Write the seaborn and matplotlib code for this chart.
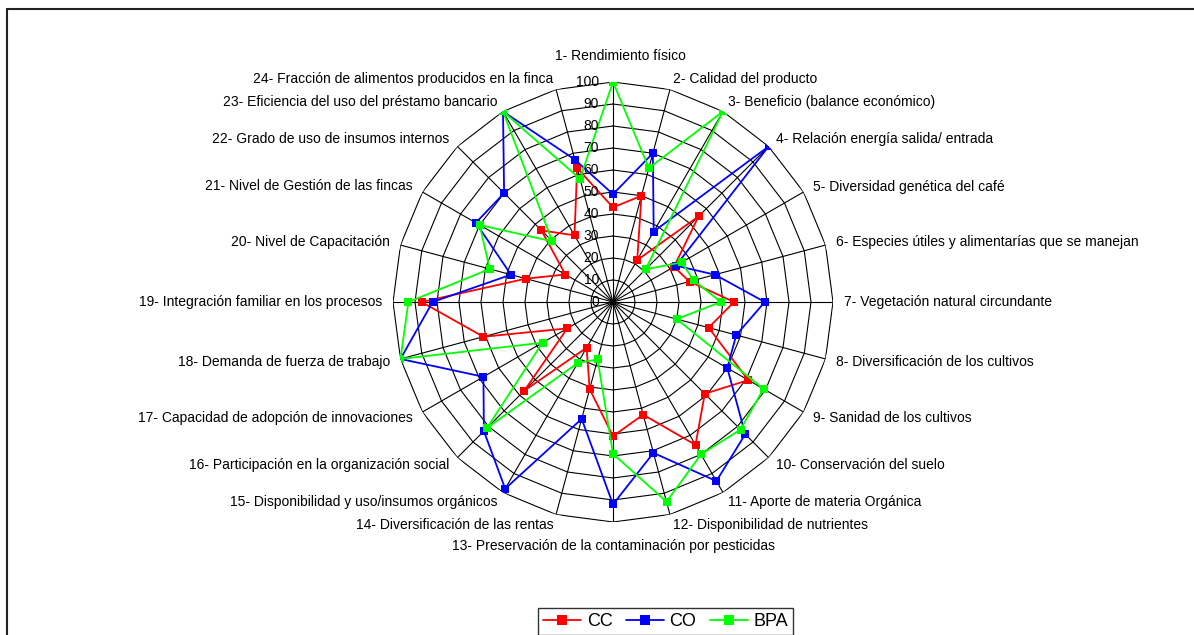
import numpy as np
import pandas as pd
import matplotlib
matplotlib.use('Agg')
import matplotlib.pyplot as plt
from matplotlib.lines import Line2D
import seaborn as sns

# Indicators (radar axes)
indicators = [
    '1- Rendimiento físico',
    '2- Calidad del producto',
    '3- Beneficio (balance económico)',
    '4- Relación energía salida/ entrada',
    '5- Diversidad genética del café',
    '6- Especies útiles y alimentarías que se manejan',
    '7- Vegetación natural circundante',
    '8- Diversificación de los cultivos',
    '9- Sanidad de los cultivos',
    '10- Conservación del suelo',
    '11- Aporte de materia Orgánica',
    '12- Disponibilidad de nutrientes',
    '13- Preservación de la contaminación por pesticidas',
    '14- Diversificación de las rentas',
    '15- Disponibilidad y uso/insumos orgánicos',
    '16- Participación en la organización social',
    '17- Capacidad de adopción de innovaciones',
    '18- Demanda de fuerza de trabajo',
    '19- Integración familiar en los procesos',
    '20- Nivel de Capacitación',
    '21- Nivel de Gestión de las fincas',
    '22- Grado de uso de insumos internos',
    '23- Eficiencia del uso del préstamo bancario',
    '24- Fracción de alimentos producidos en la finca',
]

# Series values
cc = [43, 50, 22, 55, 32, 36, 55, 45, 71, 59, 75, 53, 61, 41, 24, 57, 24, 61, 87, 41, 25, 46, 35, 63]
co = [49, 70, 37, 100, 33, 48, 69, 58, 60, 85, 94, 71, 92, 55, 98, 83, 68, 100, 82, 48, 72, 70, 100, 67]
bpa = [100, 63, 100, 21, 36, 38, 49, 30, 79, 82, 80, 94, 69, 27, 32, 81, 37, 100, 93, 58, 70, 39, 100, 58]

series_names = ['CC', 'CO', 'BPA']
series_colors = ['#FF0000', '#0000FF', '#00FF00']
radial_ticks = [0, 10, 20, 30, 40, 50, 60, 70, 80, 90, 100]

n = len(indicators)
theta = np.arange(n) * 2 * np.pi / n
theta_closed = np.append(theta, 2 * np.pi)

# Long table for seaborn (closed loops)
rows = []
for name, vals in zip(series_names, [cc, co, bpa]):
    closed = list(vals) + [vals[0]]
    for t, v in zip(theta_closed, closed):
        rows.append({'theta': t, 'valor': v, 'serie': name})
df = pd.DataFrame(rows)

sns.set_style('white')
plt.rcParams['font.family'] = ['Liberation Sans', 'DejaVu Sans']
plt.rcParams['text.color'] = 'black'

W, H = 1194, 635
fig = plt.figure(figsize=(W / 100, H / 100), dpi=100)
cx, cy, R = 613, 302, 220
ax = fig.add_axes([(cx - R) / W, 1 - (cy + R) / H, 2 * R / W, 2 * R / H], projection='polar')
ax.set_theta_offset(np.pi / 2)
ax.set_theta_direction(-1)
ax.set_ylim(0, 100)
ax.grid(False)
ax.set_xticks([])
ax.set_yticks([])
ax.spines['polar'].set_visible(False)
ax.patch.set_alpha(0)

# Polygon grid and spokes
for r in radial_ticks[1:]:
    ax.plot(theta_closed, [r] * len(theta_closed), color='black', lw=0.8, zorder=1)
for t in theta:
    ax.plot([t, t], [0, 100], color='black', lw=0.8, zorder=1)

# Data series
sns.lineplot(data=df, x='theta', y='valor', hue='serie', hue_order=series_names,
             palette=series_colors, sort=False, marker='s', markersize=6,
             markeredgewidth=0, linewidth=1.3, legend=False, ax=ax, zorder=3)
ax.set_xlabel('')
ax.set_ylabel('')
ax.set_ylim(0, 100)

# Radial tick labels along the first axis
for r in radial_ticks:
    ax.annotate(str(r), xy=(0, r), xytext=(-14, 0), textcoords='offset pixels',
                ha='right', va='center', fontsize=10, color='black', zorder=4)

# Indicator labels
for i, (t, lab) in enumerate(zip(theta, indicators)):
    s, c = np.sin(t), np.cos(t)
    if i == 0:
        ax.annotate(lab, xy=(t, 100), xytext=(7, 26), textcoords='offset pixels',
                    ha='center', va='center', fontsize=10, color='black')
    elif i == n // 2:
        ax.annotate(lab, xy=(t, 100), xytext=(0, -24), textcoords='offset pixels',
                    ha='center', va='center', fontsize=10, color='black')
    else:
        off = 11
        ax.annotate(lab, xy=(t, 100), xytext=(off * s, off * c), textcoords='offset pixels',
                    ha='left' if s > 0 else 'right', va='center', fontsize=10, color='black')

# Legend
handles = [Line2D([0], [0], color=col, lw=1.3, marker='s', markersize=7, markeredgewidth=0)
           for col in series_colors]
leg = fig.legend(handles, series_names, loc='upper left', ncol=3,
                 bbox_to_anchor=(538 / W, 1 - 607.5 / H), borderaxespad=0,
                 fontsize=13, frameon=True, fancybox=False, handlelength=2.1,
                 handletextpad=0.3, columnspacing=0.75, borderpad=0.3)
leg.get_frame().set_edgecolor('black')
leg.get_frame().set_linewidth(1.0)
for txt in leg.get_texts():
    txt.set_color('black')

# Chart area border (only top and left visible)
fig.add_artist(Line2D([7 / W, 1], [1 - 9 / H, 1 - 9 / H], transform=fig.transFigure,
                      color='#222222', lw=1.5))
fig.add_artist(Line2D([7 / W, 7 / W], [0, 1 - 9 / H], transform=fig.transFigure,
                      color='#222222', lw=1.5))

fig.savefig('out.png', dpi=100)
